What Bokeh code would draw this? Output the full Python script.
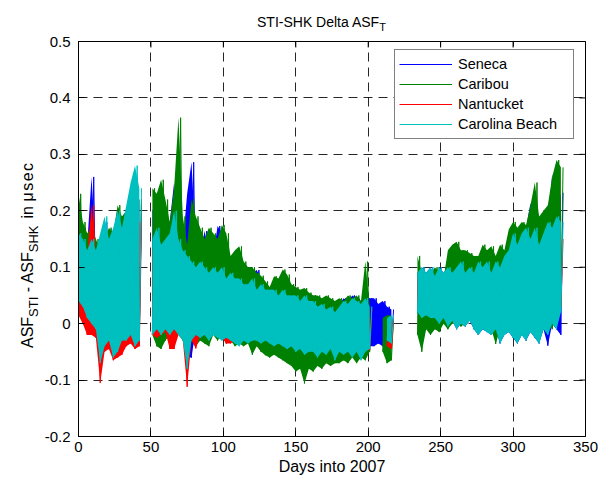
import math
from bokeh.plotting import figure
from bokeh.models import Range1d, LinearAxis, FixedTicker, Legend, LegendItem, Grid, Div
from bokeh.layouts import column, row
from bokeh.embed import file_html
from bokeh.resources import INLINE

N = None

# sampling grid (days into 2007), one envelope value pair every 3 days
days = list(range(0, 336, 3))

x_ticks = [0, 50, 100, 150, 200, 250, 300, 350]
y_ticks = [-0.2, -0.1, 0, 0.1, 0.2, 0.3, 0.4, 0.5]
y_tick_labels = ["-0.2", "-0.1", "0", "0.1", "0.2", "0.3", "0.4", "0.5"]

series_names = ["Seneca", "Caribou", "Nantucket", "Carolina Beach"]

# ---- Seneca (blue) ----
seneca_hi = ([0.15, 0.17, 0.14, 0.26, 0.13, 0.15, 0.18, 0.15, 0.16, 0.17, 0.19, 0.17, 0.20, 0.22, 0.22]
             + [N, N]
             + [0.20, 0.22, 0.16, 0.17, 0.18, 0.25, 0.16, 0.14, 0.23, 0.286,
                0.14, 0.12, 0.164, 0.13, 0.12, 0.173, 0.16, 0.11, 0.10, 0.10,
                0.09, 0.08, 0.08, 0.09, 0.095, 0.08, 0.07, 0.06, 0.065, 0.06,
                0.07, 0.06, 0.06, 0.055, 0.05, 0.055, 0.05, 0.05, 0.045, 0.04,
                0.04, 0.035, 0.03, 0.035, 0.045, 0.04, 0.05, 0.045, 0.04, 0.05,
                0.045, 0.045, 0.035, 0.04, 0.03, 0.025, N]
             + [N, N, N, N]
             + [0.09, 0.10, 0.09, 0.10, 0.085, 0.10, 0.09, 0.10, 0.09, 0.10,
                0.11, 0.09, 0.10, 0.09, 0.11, 0.10, 0.11, 0.09, 0.11, 0.10,
                0.12, 0.13, 0.15, 0.14, 0.16, 0.17, 0.214, 0.17, 0.14, 0.16,
                0.18, 0.265, 0.19, 0.232])
seneca_lo = ([0.04, 0.03, 0.01, 0.0, 0.0, -0.05, -0.03, -0.03, -0.04, -0.04, -0.03, -0.02, -0.02, -0.03, -0.02]
             + [N, N]
             + [-0.01, 0.0, -0.01, 0.0, -0.01, 0.0, -0.01, -0.02, -0.06, -0.06,
                -0.01, -0.02, -0.01, -0.02, -0.01, -0.02, -0.02, -0.02, -0.025, -0.03,
                -0.03, -0.025, -0.03, -0.025, -0.025, -0.03, -0.025, -0.03, -0.035, -0.03,
                -0.035, -0.04, -0.035, -0.045, -0.04, -0.05, -0.045, -0.045, -0.055, -0.045,
                -0.05, -0.04, -0.06, -0.045, -0.05, -0.045, -0.055, -0.045, -0.06, -0.045,
                -0.04, -0.04, -0.035, -0.04, -0.03, -0.035, N]
             + [N, N, N, N]
             + [0.02, 0.01, 0.015, 0.01, 0.01, 0.0, 0.01, -0.005, 0.005, -0.01,
                0.0, -0.005, 0.005, -0.01, -0.02, -0.01, -0.015, -0.02, -0.01, -0.035,
                -0.02, -0.015, -0.025, -0.035, -0.02, -0.03, -0.015, -0.025, -0.035, -0.01,
                -0.039, 0.0, -0.01, -0.02])

# ---- Caribou (green) ----
caribou_hi = ([0.23, 0.18, 0.16, 0.17, 0.15, 0.13, 0.15, 0.17, 0.16, 0.21, 0.19, 0.20, 0.22, 0.21, 0.22]
              + [N, N]
              + [0.24, 0.23, 0.255, 0.22, 0.18, 0.24, 0.365, 0.19, 0.14, 0.22,
                 0.19, 0.17, 0.15, 0.17, 0.16, 0.15, 0.175, 0.16, 0.12, 0.13,
                 0.137, 0.11, 0.10, 0.10, 0.09, 0.085, 0.075, 0.065, 0.084, 0.08,
                 0.096, 0.087, 0.07, 0.065, 0.06, 0.063, 0.055, 0.05, 0.05, 0.045,
                 0.05, 0.045, 0.04, 0.045, 0.04, 0.05, 0.045, 0.05, 0.04, 0.11,
                 0.03, N, N, 0.01, 0.015, 0.013, N]
              + [N, N, N, N]
              + [0.12, 0.09, 0.09, 0.085, 0.10, 0.09, 0.08, 0.13, 0.14, 0.145,
                 0.13, 0.13, 0.125, 0.12, 0.12, 0.14, 0.13, 0.137, 0.12, 0.14,
                 0.13, 0.167, 0.18, 0.17, 0.18, 0.175, 0.21, 0.25, 0.19, 0.20,
                 0.21, 0.26, 0.29, 0.277])
caribou_lo = ([0.05, 0.04, 0.02, 0.01, 0.02, -0.02, 0.0, -0.01, -0.02, -0.01, -0.02, 0.0, -0.01, -0.02, -0.01]
              + [N, N]
              + [-0.02, -0.04, -0.045, -0.03, -0.02, -0.01, -0.02, -0.01, -0.03, -0.02,
                 -0.04, -0.03, -0.035, -0.04, -0.02, -0.03, -0.02, -0.035, -0.03, -0.04,
                 -0.035, -0.04, -0.035, -0.055, -0.04, -0.05, -0.056, -0.06, -0.055, -0.06,
                 -0.065, -0.07, -0.075, -0.085, -0.08, -0.106, -0.08, -0.085, -0.075, -0.08,
                 -0.07, -0.075, -0.07, -0.07, -0.065, -0.07, -0.06, -0.07, -0.06, -0.065,
                 -0.05, N, N, -0.05, -0.07, -0.065, N]
              + [N, N, N, N]
              + [-0.02, -0.05, -0.01, -0.02, -0.01, -0.015, 0.0, -0.01, 0.0, 0.005,
                 -0.005, 0.0, 0.01, 0.0, -0.005, 0.0, 0.005, -0.01, -0.036, -0.01,
                 -0.015, 0.0, -0.01, -0.02, -0.01, 0.0, -0.005, 0.01, -0.01, 0.0,
                 0.01, -0.01, 0.02, 0.03])

# ---- Nantucket (red) ----
nantucket_hi = ([0.12, 0.13, 0.12, 0.21, 0.12, 0.15, 0.14, 0.13, 0.14, 0.15, 0.14, 0.16, 0.17, 0.19, 0.18]
                + [N, N]
                + [0.13, 0.15, 0.12, 0.13, 0.14, 0.17, 0.13, 0.11, 0.10, 0.10,
                   0.09, 0.10, 0.09, 0.08, 0.09, 0.08, 0.09, 0.07, 0.08, 0.07,
                   0.07, 0.06, 0.06, 0.07, 0.05, 0.06, 0.05, 0.05, 0.05, 0.04,
                   0.05, 0.04, 0.04, 0.04, 0.03, 0.04, 0.03, 0.03, 0.025, 0.03,
                   0.02, 0.025, 0.015, 0.025, 0.03, 0.03, 0.02, 0.035, 0.03, 0.035,
                   0.025, N, N, N, 0.0, 0.005, N]
                + [N, N, N, N]
                + [0.08, 0.08, 0.08, 0.09, 0.075, 0.08, 0.08, 0.09, 0.08, 0.085,
                   0.09, 0.08, 0.09, 0.085, 0.09, 0.09, 0.095, 0.085, 0.095, 0.09,
                   0.10, 0.11, 0.13, 0.12, 0.13, 0.14, 0.13, 0.14, 0.12, 0.13,
                   0.15, 0.14, 0.16, 0.15])
nantucket_lo = ([0.015, 0.0, -0.02, -0.02, -0.025, -0.105, -0.05, -0.045, -0.065, -0.06, -0.055, -0.04, -0.035, -0.045, -0.04]
                + [N, N]
                + [-0.02, -0.025, -0.02, -0.015, -0.045, -0.045, -0.02, -0.03, -0.112, -0.03,
                   -0.044, -0.02, -0.02, -0.025, -0.015, -0.02, -0.025, -0.035, -0.035, -0.03,
                   -0.035, -0.025, -0.03, -0.025, -0.025, -0.03, -0.025, -0.03, -0.035, -0.03,
                   -0.035, -0.04, -0.035, -0.045, -0.04, -0.05, -0.045, -0.045, -0.05, -0.045,
                   -0.05, -0.04, -0.055, -0.045, -0.05, -0.045, -0.05, -0.045, -0.055, -0.045,
                   -0.047, N, N, N, -0.04, -0.045, N]
                + [N, N, N, N]
                + [0.03, 0.02, 0.025, 0.02, 0.02, 0.01, 0.02, 0.005, 0.015, 0.0,
                   0.01, 0.005, 0.015, 0.0, -0.01, 0.0, -0.005, -0.01, 0.0, -0.02,
                   -0.01, -0.005, -0.015, -0.02, -0.01, -0.02, -0.005, -0.015, -0.02, 0.0,
                   -0.01, 0.01, 0.0, 0.03])

# ---- Carolina Beach (cyan) ----
carolina_hi = ([0.16, 0.15, 0.13, 0.15, 0.13, 0.16, 0.19, 0.15, 0.17, 0.20, 0.17, 0.21, 0.25, 0.28, 0.24]
               + [N, N]
               + [0.15, 0.17, 0.14, 0.15, 0.16, 0.20, 0.15, 0.13, 0.12, 0.11,
                  0.10, 0.11, 0.10, 0.09, 0.10, 0.09, 0.10, 0.08, 0.09, 0.08,
                  0.08, 0.07, 0.07, 0.08, 0.06, 0.07, 0.06, 0.06, 0.06, 0.05,
                  0.06, 0.05, 0.05, 0.05, 0.04, 0.05, 0.04, 0.04, 0.03, 0.035,
                  0.025, 0.03, 0.02, 0.03, 0.04, 0.035, 0.045, 0.04, 0.035, 0.045,
                  0.03, N, N, N, 0.01, 0.015, N]
               + [N, N, N, N]
               + [0.09, 0.10, 0.09, 0.10, 0.085, 0.10, 0.09, 0.10, 0.09, 0.10,
                  0.11, 0.09, 0.10, 0.09, 0.11, 0.10, 0.11, 0.09, 0.11, 0.10,
                  0.12, 0.13, 0.16, 0.14, 0.16, 0.17, 0.15, 0.17, 0.14, 0.16,
                  0.18, 0.17, 0.19, 0.18])
carolina_lo = ([0.04, 0.03, 0.01, 0.00, -0.01, -0.07, -0.04, -0.03, -0.06, -0.05, -0.03, -0.03, -0.02, -0.04, -0.03]
               + [N, N]
               + [-0.02, -0.01, -0.02, -0.01, -0.02, -0.01, -0.02, -0.03, -0.08, -0.03,
                  -0.02, -0.025, -0.02, -0.03, -0.02, -0.025, -0.03, -0.025, -0.03, -0.035,
                  -0.04, -0.03, -0.035, -0.03, -0.03, -0.035, -0.03, -0.035, -0.04, -0.035,
                  -0.04, -0.045, -0.04, -0.05, -0.045, -0.055, -0.05, -0.05, -0.06, -0.05,
                  -0.055, -0.045, -0.065, -0.05, -0.055, -0.05, -0.06, -0.05, -0.065, -0.05,
                  -0.045, N, N, N, -0.03, -0.035, N]
               + [N, N, N, N]
               + [0.02, 0.01, 0.015, 0.01, 0.01, 0.0, 0.01, -0.005, 0.005, -0.01,
                  0.0, -0.005, 0.005, -0.01, -0.02, -0.01, -0.015, -0.02, -0.01, -0.035,
                  -0.02, -0.015, -0.025, -0.035, -0.02, -0.03, -0.015, -0.025, -0.035, -0.01,
                  -0.02, 0.0, -0.01, 0.02])

colors = ["#0000ff", "#008000", "#ff0000", "#00bfbf"]
FONT = "Liberation Sans"
NAN = float("nan")


def zigzag(lo, hi):
    xs, ys = [], []
    for d, a, b in zip(days, lo, hi):
        xs += [d, d + 1.5]
        ys += [NAN if a is None else a, NAN if b is None else b]
    return xs, ys


def runs(lo, hi):
    out, cur = [], []
    for d, a, b in zip(days, lo, hi):
        if a is None or b is None:
            if len(cur) > 1:
                out.append(cur)
            cur = []
        else:
            cur.append((d, a, b))
    if len(cur) > 1:
        out.append(cur)
    return out


TITLE_H = 33
FIG_H = 482 - TITLE_H
p = figure(width=560, height=FIG_H, x_range=Range1d(0, 350), y_range=Range1d(-0.2, 0.5),
           min_border_left=38, min_border_right=15, min_border_top=41 - TITLE_H, min_border_bottom=46,
           output_backend="svg", toolbar_location=None, x_axis_type=None, y_axis_type=None,
           margin=(0, 0, 0, 0))
p.background_fill_color = "white"
p.border_fill_color = "white"
p.outline_line_color = "black"
p.outline_line_width = 1

xb = LinearAxis(ticker=FixedTicker(ticks=x_ticks))
yl = LinearAxis(ticker=FixedTicker(ticks=y_ticks),
                major_label_overrides={v: s for v, s in zip(y_ticks, y_tick_labels)})
for ax in (xb, yl):
    ax.major_tick_in = 6
    ax.major_tick_out = 0
    ax.minor_tick_line_color = None
    ax.axis_line_color = "black"
    ax.major_tick_line_color = "black"
    ax.major_label_text_color = "black"
    ax.major_label_text_font = FONT
    ax.major_label_text_font_size = "15px"
xb.major_label_standoff = 5
yl.major_label_standoff = 8
xb.axis_label = "Days into 2007"
xb.axis_label_text_font = FONT
xb.axis_label_text_font_size = "16px"
xb.axis_label_text_font_style = "normal"
xb.axis_label_text_color = "black"
xb.axis_label_standoff = 3
p.add_layout(xb, "below")
p.add_layout(yl, "left")

p.add_layout(Grid(dimension=0, ticker=FixedTicker(ticks=x_ticks), grid_line_color="black",
                  grid_line_dash="9 6", grid_line_alpha=0.85))
p.add_layout(Grid(dimension=1, ticker=FixedTicker(ticks=y_ticks), grid_line_color="black",
                  grid_line_dash="9 6", grid_line_alpha=0.85))

# inward ticks on the top and right box edges (half of each dash is clipped by the frame)
p.scatter(x_ticks, [y_ticks[-1]] * len(x_ticks), marker="dash", angle=math.pi / 2, size=12,
          line_color="black", line_width=1)
p.scatter([x_ticks[-1]] * len(y_ticks), y_ticks, marker="dash", size=12,
          line_color="black", line_width=1)

renderers = []
for lo, hi, c in [(seneca_lo, seneca_hi, colors[0]), (caribou_lo, caribou_hi, colors[1]),
                  (nantucket_lo, nantucket_hi, colors[2]), (carolina_lo, carolina_hi, colors[3])]:
    for run in runs(lo, hi):
        p.varea(x=[r[0] for r in run], y1=[r[1] for r in run], y2=[r[2] for r in run],
                fill_color=c, fill_alpha=1)
    xs, ys = zigzag(lo, hi)
    renderers.append(p.line(xs, ys, line_color=c, line_width=1))

legend = Legend(items=[LegendItem(label=n, renderers=[r]) for n, r in zip(series_names, renderers)],
                location=(316, 297), margin=0, padding=4, spacing=0,
                glyph_width=53, glyph_height=20, label_height=20, label_width=111, label_standoff=6,
                label_text_font=FONT, label_text_font_size="14.5px", label_text_color="black",
                border_line_color="black", border_line_width=1, background_fill_color="white",
                background_fill_alpha=1)
p.add_layout(legend)

title_html = ('<div style="font-family:\'Liberation Sans\';font-size:14px;line-height:16px;'
              'white-space:nowrap;color:#000;transform:translate(257px,14px);">'
              'STI-SHK Delta ASF<span style="font-size:11px;position:relative;top:4px;">T</span></div>')
ylabel_html = ('<div style="font-family:\'Liberation Sans\';font-size:16px;line-height:18px;'
               'white-space:nowrap;color:#000;transform-origin:0 0;'
               'transform:translate(19px,%dpx) rotate(-90deg);">'
               'ASF<span style="font-size:13px;position:relative;top:5px;">STI</span> - ASF'
               '<span style="font-size:13px;position:relative;top:5px;">SHK</span>'
               '<span style="padding-left:7px;">in</span> '
               '<span style="letter-spacing:1.5px;">\u03bcsec</span></div>') % (348 - TITLE_H)

title_div = Div(text=title_html, width=600, height=TITLE_H, margin=(0, 0, 0, 0))
ylabel_div = Div(text=ylabel_html, width=40, height=FIG_H, margin=(0, 0, 0, 0))

layout = column(title_div, row(ylabel_div, p, spacing=0, margin=(0, 0, 0, 0)),
                spacing=0, margin=(0, 0, 0, 0))

open("out.html", "w").write(file_html(layout, INLINE))
